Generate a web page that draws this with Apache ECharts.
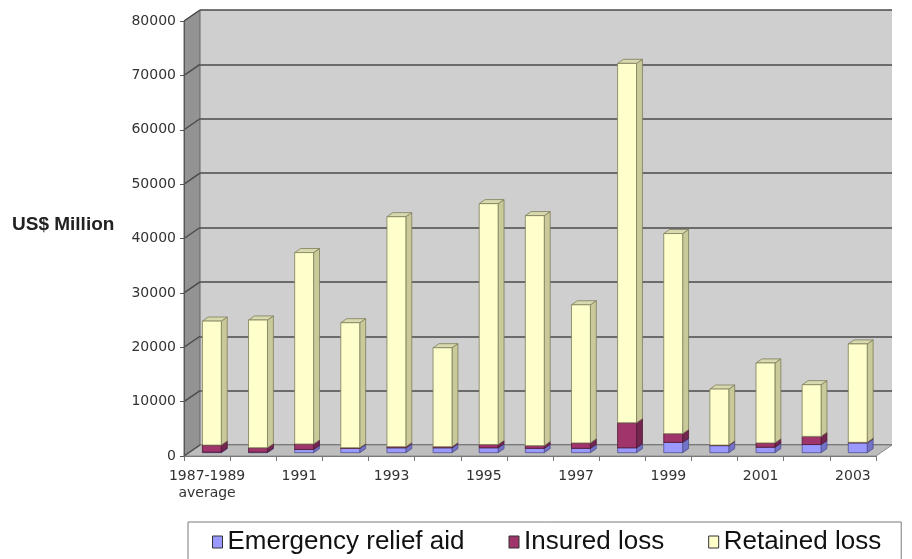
<!DOCTYPE html>
<html>
<head>
<meta charset="utf-8">
<script src="https://cdn.jsdelivr.net/npm/echarts@6/dist/echarts.min.js"></script>
<style>
  html, body { margin: 0; padding: 0; background: #ffffff; }
  #chart { width: 912px; height: 559px; }
</style>
</head>
<body>
<div id="chart"></div>
<script>
// Disaster losses by year, US$ million
const categories = ['1987-1989\naverage', '1990', '1991', '1992', '1993', '1994', '1995',
  '1996', '1997', '1998', '1999', '2000', '2001', '2002', '2003'];
const emergencyRelief = [100, 100, 600, 800, 900, 900, 900, 800, 800, 900, 1900, 1300, 1000, 1500, 1800];
const insuredLoss     = [1300, 800, 1000, 100, 200, 200, 600, 500, 1000, 4600, 1600, 100, 800, 1500, 100];
const retainedLoss    = [22800, 23500, 35200, 23000, 42300, 18200, 44300, 42300, 25400, 66100, 36800, 10300, 14700, 9500, 18100];
const seriesNames = ['Emergency relief aid', 'Insured loss', 'Retained loss'];

const Y_MAX = 80000, Y_STEP = 10000;

// Pseudo-3D depth of the plot box and of each column
const DEPTH = { dx: 16, dy: -11 };
const BAR = { f0: 0.30, f1: 0.67, width: 0.41 };

const palette = [
  { front: '#9999ff', side: '#7272c8', top: '#8585e0', edge: '#50508a' },
  { front: '#a0356b', side: '#732650', top: '#84305c', edge: '#4e1832' },
  { front: '#ffffcc', side: '#c9c99a', top: '#d9d9b0', edge: '#7d7d5a' }
];

// Stack the three series into [index, base, top] triples
const stacks = [emergencyRelief, insuredLoss, retainedLoss];
const stackedData = stacks.map(() => []);
categories.forEach((_, i) => {
  let base = 0;
  stacks.forEach((vals, s) => {
    stackedData[s].push([i, base, base + vals[i]]);
    base += vals[i];
  });
});

function boxRenderer(col) {
  return function (params, api) {
    const i = api.value(0), lo = api.value(1), hi = api.value(2);
    const a = api.coord([i, lo]);
    const b = api.coord([i, hi]);
    const w = api.size([1, 0])[0] * BAR.width;
    const ox = DEPTH.dx * BAR.f0, oy = DEPTH.dy * BAR.f0;
    const sx = DEPTH.dx * (BAR.f1 - BAR.f0), sy = DEPTH.dy * (BAR.f1 - BAR.f0);
    const x0 = a[0] - w / 2 + ox, x1 = x0 + w;
    const yb = a[1] + oy, yt = b[1] + oy;
    const stroke = { stroke: col.edge, lineWidth: 0.8 };
    return {
      type: 'group',
      children: [
        { type: 'polygon', shape: { points: [[x1, yb], [x1 + sx, yb + sy], [x1 + sx, yt + sy], [x1, yt]] },
          style: Object.assign({ fill: col.side }, stroke) },
        { type: 'polygon', shape: { points: [[x0, yt], [x1, yt], [x1 + sx, yt + sy], [x0 + sx, yt + sy]] },
          style: Object.assign({ fill: col.top }, stroke) },
        { type: 'polygon', shape: { points: [[x0, yb], [x1, yb], [x1, yt], [x0, yt]] },
          style: Object.assign({ fill: col.front }, stroke) }
      ]
    };
  };
}

// Side wall, floor and the slanted grid lines on the side wall
function frameRenderer(params, api) {
  const cs = params.coordSys;
  const L = cs.x, R = cs.x + cs.width, T = cs.y, B = cs.y + cs.height;
  const children = [
    { type: 'polygon', shape: { points: [[L, T], [L + DEPTH.dx, T + DEPTH.dy], [L + DEPTH.dx, B + DEPTH.dy], [L, B]] },
      style: { fill: '#939393', stroke: '#666', lineWidth: 1 } },
    { type: 'polygon', shape: { points: [[L, B], [R, B], [R + DEPTH.dx, B + DEPTH.dy], [L + DEPTH.dx, B + DEPTH.dy]] },
      style: { fill: '#bdbdbd', stroke: '#8a8a8a', lineWidth: 1 } }
  ];
  for (let v = 0; v <= Y_MAX; v += Y_STEP) {
    const y = api.coord([0, v])[1];
    children.push({ type: 'line', shape: { x1: L, y1: y, x2: L + DEPTH.dx, y2: y + DEPTH.dy },
      style: { stroke: '#4a4a4a', lineWidth: 1.5 } });
  }
  return { type: 'group', children };
}

const FRONT = { left: 184, right: 36, top: 21, bottom: 103 };
const BACK = { left: FRONT.left + DEPTH.dx, right: FRONT.right - DEPTH.dx,
               top: FRONT.top + DEPTH.dy, bottom: FRONT.bottom - DEPTH.dy };

const chart = echarts.init(document.getElementById('chart'), null, { renderer: 'canvas' });

const option = {
  animation: false,
  title: {
    text: 'US$ Million', left: 12, top: 215, padding: 0,
    textStyle: { fontSize: 19, fontWeight: 'bold', color: '#222', fontFamily: 'Liberation Sans, Arial, sans-serif' }
  },
  legend: {
    data: seriesNames, left: 188, top: 522, icon: 'rect',
    itemWidth: 10, itemHeight: 12, itemGap: 44,
    itemStyle: { borderColor: '#333', borderWidth: 1 },
    textStyle: { fontSize: 26, color: '#111', fontFamily: 'Liberation Sans, Arial, sans-serif' },
    borderColor: '#7a7a7a', borderWidth: 1, padding: [7, 20, 40, 24]
  },
  grid: [
    Object.assign({ show: false }, FRONT),
    Object.assign({ show: true, backgroundColor: '#cfcfcf', borderWidth: 0 }, BACK)
  ],
  xAxis: [
    {
      type: 'category', gridIndex: 0, data: categories, z: 3,
      axisLine: { lineStyle: { color: '#777', width: 1 } },
      axisTick: { show: true, interval: 0, length: 5, lineStyle: { color: '#777' } },
      axisLabel: { interval: 1, margin: 12, fontSize: 14, lineHeight: 17, color: '#333', fontFamily: 'DejaVu Sans, sans-serif' }
    },
    { type: 'category', gridIndex: 1, data: categories, show: false }
  ],
  yAxis: [
    {
      type: 'value', gridIndex: 0, min: 0, max: Y_MAX, interval: Y_STEP, z: 3,
      axisLine: { show: true, lineStyle: { color: '#555', width: 1 } },
      axisTick: { show: true, length: 4, lineStyle: { color: '#555' } },
      axisLabel: { margin: 8, fontSize: 14, color: '#333', fontFamily: 'DejaVu Sans, sans-serif',
                   formatter: (v) => String(v) },
      splitLine: { show: false }
    },
    {
      type: 'value', gridIndex: 1, min: 0, max: Y_MAX, interval: Y_STEP,
      axisLine: { show: false }, axisTick: { show: false }, axisLabel: { show: false },
      splitLine: { show: true, lineStyle: { color: '#4a4a4a', width: 1.5 } }
    }
  ],
  series: [
    {
      type: 'custom', name: '__frame', xAxisIndex: 0, yAxisIndex: 0, z: 1, silent: true,
      data: [[0, 0]], renderItem: frameRenderer
    }
  ].concat(seriesNames.map((name, s) => ({
    type: 'custom', name, xAxisIndex: 0, yAxisIndex: 0, z: 2 + s * 0.01,
    itemStyle: { color: palette[s].front },
    encode: { x: 0, y: [1, 2] },
    data: stackedData[s],
    renderItem: boxRenderer(palette[s])
  })))
};

chart.setOption(option);
</script>
</body>
</html>
